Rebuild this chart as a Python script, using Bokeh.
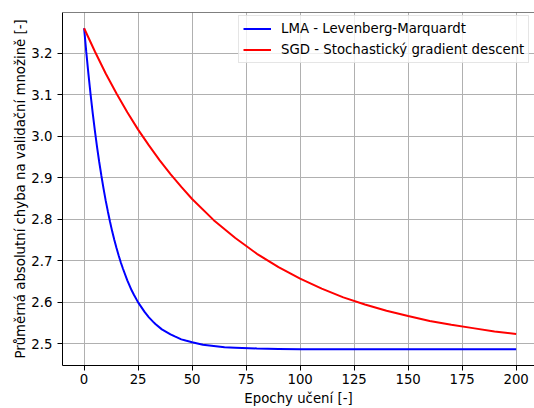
from bokeh.plotting import figure
from bokeh.models import Range1d, FixedTicker, PrintfTickFormatter, Span
from bokeh.embed import file_html
from bokeh.resources import INLINE

# ---- data ----
epochs_lma = [0, 1, 2, 3, 4, 5, 6, 7, 8, 9, 10, 11, 12, 13, 14, 15, 16, 17, 18, 20,
              22, 23, 25, 28, 30, 32, 33, 36, 38, 40, 42, 45, 47, 50, 55, 60, 65, 70,
              80, 90, 100, 125, 150, 175, 200]
mae_lma = [3.260, 3.203, 3.150, 3.101, 3.055, 3.013, 2.974, 2.938, 2.905, 2.874, 2.845,
           2.819, 2.794, 2.771, 2.750, 2.731, 2.713, 2.696, 2.681, 2.653,
           2.629, 2.619, 2.600, 2.577, 2.564, 2.553, 2.548, 2.535, 2.529, 2.523,
           2.518, 2.511, 2.508, 2.504, 2.498, 2.495, 2.492, 2.491,
           2.489, 2.488, 2.487, 2.487, 2.487, 2.487, 2.487]

epochs_sgd = [0, 5, 10, 15, 20, 25, 30, 35, 40, 45, 50, 60, 70, 80, 90, 100, 110, 120,
              130, 140, 150, 160, 170, 180, 190, 200]
mae_sgd = [3.260, 3.204, 3.151, 3.103, 3.058, 3.016, 2.978, 2.942, 2.909, 2.878, 2.849,
           2.798, 2.755, 2.717, 2.685, 2.657, 2.633, 2.612, 2.595, 2.580, 2.567,
           2.555, 2.546, 2.538, 2.530, 2.524]

x_ticks = [0, 25, 50, 75, 100, 125, 150, 175, 200]
y_ticks = [2.5, 2.6, 2.7, 2.8, 2.9, 3.0, 3.1, 3.2]

label_lma = "LMA - Levenberg-Marquardt"
label_sgd = "SGD - Stochastický gradient descent"
x_title = "Epochy učení [-]"
y_title = "Průměrná absolutní chyba na validační množině [-]"

FONT = "DejaVu Sans"
FS = "13.3px"

p = figure(width=534, height=408, output_backend="svg", toolbar_location=None,
           x_range=Range1d(-10, 208.5), y_range=Range1d(2.448, 3.298),
           min_border_left=62, min_border_right=0, min_border_top=12, min_border_bottom=42)

p.background_fill_color = "white"
p.border_fill_color = "white"
p.outline_line_color = None

p.line(epochs_lma, mae_lma, line_color="#0000ff", line_width=2, legend_label=label_lma)
p.line(epochs_sgd, mae_sgd, line_color="#ff0000", line_width=2, legend_label=label_sgd)

# top spine
p.add_layout(Span(location=3.298, dimension="width", line_color="black", line_width=1))

for ax in (p.xaxis[0], p.yaxis[0]):
    ax.axis_line_color = "black"
    ax.axis_line_width = 1
    ax.major_tick_line_color = "black"
    ax.major_tick_line_width = 1
    ax.major_tick_out = 5
    ax.major_tick_in = 0
    ax.minor_tick_line_color = None
    ax.major_label_text_font = FONT
    ax.major_label_text_font_size = FS
    ax.major_label_text_color = "black"
    ax.major_label_text_line_height = 1.0
    ax.axis_label_text_font = FONT
    ax.axis_label_text_font_size = FS
    ax.axis_label_text_font_style = "normal"
    ax.axis_label_text_color = "black"
    ax.axis_label_text_line_height = 1.0

p.xaxis[0].ticker = FixedTicker(ticks=x_ticks)
p.yaxis[0].ticker = FixedTicker(ticks=y_ticks)
p.yaxis[0].formatter = PrintfTickFormatter(format="%.1f")
p.xaxis[0].axis_label = x_title
p.yaxis[0].axis_label = y_title
p.xaxis[0].major_label_standoff = 3
p.xaxis[0].axis_label_standoff = 4
p.xaxis[0].axis_label_text_line_height = 0.7
p.yaxis[0].major_label_standoff = 5
p.yaxis[0].axis_label_standoff = 0

p.xgrid.grid_line_color = "#b0b0b0"
p.ygrid.grid_line_color = "#b0b0b0"
p.xgrid.grid_line_width = 1
p.ygrid.grid_line_width = 1

lg = p.legend[0]
lg.location = (176, 302)
lg.margin = 0
lg.padding = 4
lg.spacing = 4
lg.label_height = 17
lg.glyph_height = 17
lg.glyph_width = 28
lg.label_standoff = 10
lg.label_text_font = FONT
lg.label_text_font_size = FS
lg.label_text_color = "black"
lg.label_text_line_height = 1.0
lg.border_line_color = "#cccccc"
lg.border_line_width = 1
lg.background_fill_color = "white"
lg.background_fill_alpha = 0.8

open("out.html", "w").write(file_html(p, INLINE))
